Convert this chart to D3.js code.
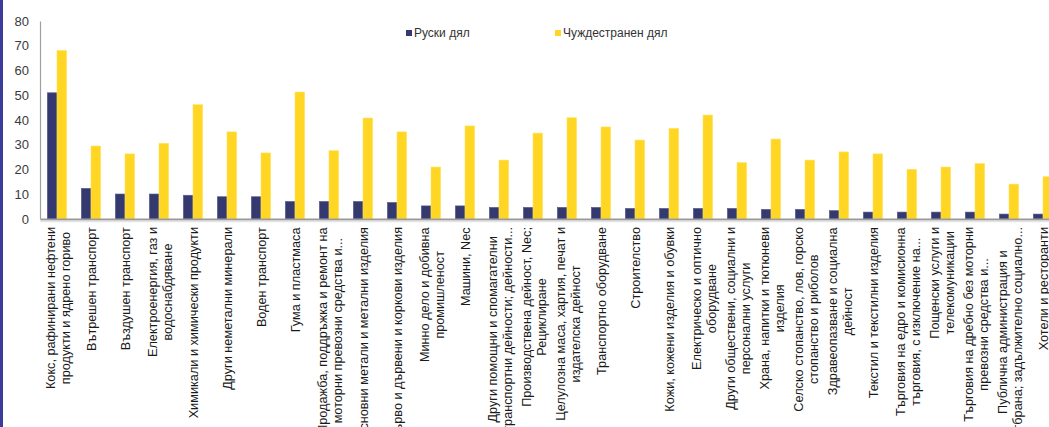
<!DOCTYPE html>
<html>
<head>
<meta charset="utf-8">
<script src="https://cdn.jsdelivr.net/npm/d3@7"></script>
<style>
  html, body { margin: 0; padding: 0; background: #fff; overflow: hidden; }
  svg { display: block; font-family: "Liberation Sans", Arial, sans-serif; }
</style>
</head>
<body>
<svg id="chart" width="1049" height="427"></svg>
<script>
// ---- data ----
const categories = [
  ["Кокс,  рафинирани нефтени", "продукти и ядрено гориво"],
  ["Вътрешен транспорт"],
  ["Въздушен транспорт"],
  ["Електроенергия, газ и", "водоснабдяване"],
  ["Химикали и химически продукти"],
  ["Други неметални минерали"],
  ["Воден транспорт"],
  ["Гума и пластмаса"],
  ["Продажба, поддръжка и ремонт на", "моторни превозни средства и..."],
  ["Основни метали и метални изделия"],
  ["Дърво и дървени и коркови изделия"],
  ["Минно  дело и добивна", "промишленост"],
  ["Машини, Nec"],
  ["Други помощни и спомагателни", "транспортни дейности; дейности..."],
  ["Производствена дейност, Nec;", "Рециклиране"],
  ["Целулозна маса, хартия, печат и", "издателска дейност"],
  ["Транспортно оборудване"],
  ["Строителство"],
  ["Кожи, кожени изделия и обувки"],
  ["Електрическо и оптично", "оборудване"],
  ["Други обществени, социални и", "персонални услуги"],
  ["Храна, напитки и тютюневи", "изделия"],
  ["Селско стопанство, лов, горско", "стопанство и риболов"],
  ["Здравеопазване и социална", "дейност"],
  ["Текстил и текстилни изделия"],
  ["Търговия на едро и комисионна", "търговия, с изключение на..."],
  ["Пощенски услуги и", "телекомуникации"],
  ["Търговия на дребно без моторни", "превозни средства и..."],
  ["Публична администрация и", "отбрана; задължително социално..."],
  ["Хотели и ресторанти"]
];
const seriesNames = ["Руски дял", "Чуждестранен дял"];
const russianShare = [51, 12.4, 10.1, 10.1, 9.6, 9.0, 9.0, 7.1, 7.1, 7.1,
                      6.7, 5.3, 5.3, 4.7, 4.7, 4.7, 4.7, 4.3, 4.3, 4.3,
                      4.3, 3.9, 3.9, 3.4, 2.8, 2.8, 2.8, 2.8, 2.0, 2.0];
const foreignShare = [68.1, 29.5, 26.3, 30.6, 46.2, 35.2, 26.7, 51.3, 27.6, 40.8,
                      35.2, 21.0, 37.6, 23.8, 34.7, 40.9, 37.2, 31.9, 36.6, 42.0,
                      22.8, 32.3, 23.8, 27.1, 26.3, 20.1, 21.0, 22.4, 14.1, 17.1];
const yTicks = [0, 10, 20, 30, 40, 50, 60, 70, 80];
const colors = ["#343a70", "#ffd624"];

// ---- layout ----
const svg = d3.select("#chart");
const W = 1049, H = 427;
const plotLeft = 40, plotTop = 21, baseline = 219;
const ids = categories.map((d, i) => i);

const x0 = d3.scaleBand().domain(ids).range([plotLeft, plotLeft + 30 * 34])
  .paddingInner(0.43).paddingOuter(0.215);
const x1 = d3.scaleBand().domain([0, 1]).range([0, x0.bandwidth()]);
const y = d3.scaleLinear().domain([0, 80]).range([baseline, plotTop]);

// left border
svg.append("line").attr("x1", 1.5).attr("x2", 1.5).attr("y1", 0).attr("y2", H)
  .attr("stroke", "#3b3b9c").attr("stroke-width", 3);

// bars
const series = [russianShare, foreignShare];
const g = svg.append("g");
ids.forEach(i => {
  series.forEach((s, k) => {
    g.append("rect")
      .attr("x", x0(i) + x1(k))
      .attr("y", y(s[i]))
      .attr("width", x1.bandwidth())
      .attr("height", y(0) - y(s[i]))
      .attr("fill", colors[k])
      .attr("stroke", k === 0 ? "#5a5f8c" : "#ffe466")
      .attr("stroke-width", 0.6);
  });
});

// y axis
const yAxis = svg.append("g").attr("transform", `translate(${plotLeft},0)`)
  .call(d3.axisLeft(y).tickValues(yTicks).tickSize(0).tickSizeOuter(0).tickPadding(11));
yAxis.select(".domain").attr("stroke", "#a0a0a0").attr("stroke-width", 1.2);
yAxis.selectAll("text").attr("font-size", 13).attr("fill", "#3a3a3a")
  .attr("font-family", "'Liberation Sans', Arial, sans-serif");

// x axis baseline
const xAxis = svg.append("g").attr("transform", `translate(0,${baseline})`)
  .call(d3.axisBottom(d3.scaleLinear().domain([0, 1]).range([plotLeft, W])).ticks(0).tickSize(0).tickSizeOuter(0));
xAxis.select(".domain").attr("stroke", "#9a9a9a").attr("stroke-width", 2);
svg.append("line").attr("x1", plotLeft).attr("x2", W).attr("y1", 221.5).attr("y2", 221.5)
  .attr("stroke", "#e4e4e4").attr("stroke-width", 1.5);

// category labels (rotated)
const lineH = 15.5;
const labelTop = 227;
ids.forEach(i => {
  const lines = categories[i];
  const cx = x0(i) + x0.bandwidth() / 2 + 1;
  const grp = svg.append("g");
  const texts = lines.map((t, j) => grp.append("text")
    .attr("font-size", 12.7).attr("fill", "#1a1a1a")
    .attr("text-anchor", "middle")
    .attr("x", 0)
    .attr("y", (j - (lines.length - 1) / 2) * lineH)
    .attr("dy", "0.35em")
    .text(t));
  const maxLen = d3.max(texts, t => t.node().getBBox().width);
  grp.attr("transform", `translate(${cx},${labelTop + maxLen / 2}) rotate(-90)`);
});

// legend
const legend = [{ x: 406, name: seriesNames[0], c: colors[0] },
                { x: 555, name: seriesNames[1], c: colors[1] }];
legend.forEach(l => {
  svg.append("rect").attr("x", l.x).attr("y", 30).attr("width", 6).attr("height", 6).attr("fill", l.c);
  svg.append("text").attr("x", l.x + 8).attr("y", 33).attr("dy", "0.35em")
    .attr("font-size", 12).attr("fill", "#333").text(l.name);
});
</script>
</body>
</html>
